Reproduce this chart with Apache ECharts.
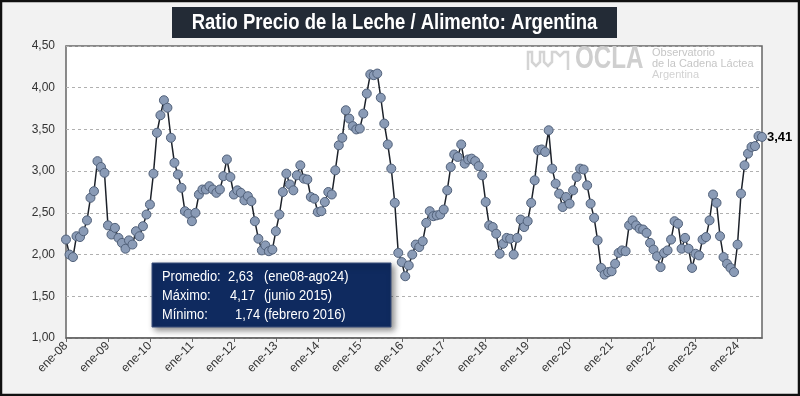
<!DOCTYPE html>
<html>
<head>
<meta charset="utf-8">
<script src="https://cdn.jsdelivr.net/npm/echarts@6/dist/echarts.min.js"></script>
<style>
  html, body { margin: 0; padding: 0; background: #fff; }
  #chart { width: 800px; height: 396px; }
</style>
</head>
<body>
<div id="chart"></div>
<script>
// meses y años del eje x (ene-08 .. ago-24)
var months = ['ene', 'feb', 'mar', 'abr', 'may', 'jun', 'jul', 'ago', 'sep', 'oct', 'nov', 'dic'];
var years = ['08', '09', '10', '11', '12', '13', '14', '15', '16', '17', '18', '19', '20', '21', '22', '23', '24'];

// ratio precio leche / alimento, mensual
var ratio = [
  2.18, 2.00, 1.97, 2.22, 2.21, 2.28, 2.41, 2.68, 2.76, 3.12, 3.05, 2.98,
  2.35, 2.24, 2.32, 2.20, 2.14, 2.07, 2.17, 2.12, 2.28, 2.22, 2.34, 2.48,
  2.60, 2.97, 3.46, 3.67, 3.85, 3.76, 3.40, 3.10, 2.96, 2.80, 2.52, 2.49,
  2.40, 2.50, 2.72, 2.78, 2.78, 2.82, 2.78, 2.74, 2.78, 2.94, 3.14, 2.93,
  2.72, 2.77, 2.74, 2.65, 2.70, 2.64, 2.40, 2.19, 2.05, 2.11, 2.04, 2.06,
  2.28, 2.48, 2.75, 2.97, 2.84, 2.77, 2.95, 3.07, 2.91, 2.90, 2.69, 2.67,
  2.51, 2.52, 2.63, 2.75, 2.72, 3.01, 3.31, 3.40, 3.73, 3.63, 3.54, 3.50,
  3.51, 3.69, 3.93, 4.16, 4.15, 4.17, 3.88, 3.57, 3.32, 3.03, 2.62, 2.02,
  1.91, 1.74, 1.87, 2.00, 2.12, 2.09, 2.16, 2.38, 2.52, 2.46, 2.47, 2.48,
  2.54, 2.77, 3.05, 3.20, 3.17, 3.32, 3.09, 3.14, 3.15, 3.12, 3.06, 2.95,
  2.63, 2.35, 2.33, 2.25, 2.01, 2.13, 2.20, 2.19, 2.00, 2.20, 2.42, 2.33,
  2.40, 2.62, 2.89, 3.25, 3.26, 3.23, 3.49, 3.03, 2.85, 2.73, 2.57, 2.69,
  2.61, 2.77, 2.93, 3.03, 3.02, 2.83, 2.61, 2.44, 2.17, 1.84, 1.76, 1.79,
  1.80, 1.89, 2.02, 2.05, 2.04, 2.35, 2.41, 2.35, 2.31, 2.30, 2.26, 2.14,
  2.06, 1.98, 1.85, 2.02, 2.05, 2.18, 2.40, 2.37, 2.07, 2.20, 2.07, 1.84,
  2.01, 1.99, 2.18, 2.21, 2.41, 2.72, 2.62, 2.22, 1.97, 1.89, 1.84, 1.79,
  2.12, 2.73, 3.07, 3.21, 3.29, 3.30, 3.42, 3.41
];

// texto del recuadro
var statLabels = ['Promedio:', 'Máximo:', 'Mínimo:'];
var statValues = ['2,63', '4,17', '1,74'];
var statNotes = ['(ene08-ago24)', '(junio 2015)', '(febrero 2016)'];

var categories = [];
years.forEach(function (y) {
  months.forEach(function (m) {
    if (categories.length < ratio.length) categories.push(m + '-' + y);
  });
});

function fmt(v) {
  return v.toFixed(2).replace('.', ',');
}

var seriesData = ratio.map(function (v, i) {
  if (i === ratio.length - 1) {
    return {
      value: v,
      label: {
        show: true,
        position: 'right',
        distance: 0,
        formatter: function (p) { return fmt(p.value); },
        color: '#000',
        fontWeight: 'bold',
        fontSize: 13,
        fontFamily: 'Liberation Sans'
      }
    };
  }
  return v;
});

var font = 'Liberation Sans';
var chart = echarts.init(document.getElementById('chart'));

// recuadro de estadisticas
var statBox = [{
  type: 'rect',
  shape: { x: 152, y: 263, width: 239, height: 64 },
  style: { fill: '#0f2a5f', stroke: '#3a4f7a', lineWidth: 1, shadowBlur: 6, shadowOffsetX: 3, shadowOffsetY: 3, shadowColor: 'rgba(0,0,0,0.45)' },
  z: 10
}];
var lineY = [277, 296, 315];
var valueX = [228, 230, 235];
statLabels.forEach(function (t, i) {
  statBox.push({ type: 'text', x: 162, y: lineY[i], z: 11, scaleX: 0.92,
    style: { text: t, fill: '#fff', font: '14px ' + font, verticalAlign: 'middle' } });
  statBox.push({ type: 'text', x: valueX[i], y: lineY[i], z: 11, scaleX: 0.92,
    style: { text: statValues[i], fill: '#fff', font: '14px ' + font, verticalAlign: 'middle' } });
  statBox.push({ type: 'text', x: 264, y: lineY[i], z: 11, scaleX: 0.92,
    style: { text: statNotes[i], fill: '#fff', font: '14px ' + font, verticalAlign: 'middle' } });
});

var option = {
  animation: false,
  backgroundColor: '#f2f2f2',
  grid: {
    left: 66,
    right: 38,
    top: 46,
    bottom: 58,
    show: true,
    backgroundColor: '#fff',
    borderColor: '#666',
    borderWidth: 1.5
  },
  xAxis: {
    type: 'category',
    data: categories,
    boundaryGap: false,
    axisLine: { show: true, lineStyle: { color: '#666', width: 1.5 } },
    axisTick: { show: true, interval: 11, length: 4, lineStyle: { color: '#666' } },
    axisLabel: {
      interval: 11,
      rotate: 45,
      margin: 6,
      color: '#333',
      fontSize: 12,
      fontFamily: font
    },
    splitLine: { show: false }
  },
  yAxis: {
    type: 'value',
    min: 1,
    max: 4.5,
    interval: 0.5,
    axisLine: { show: false },
    axisTick: { show: false },
    axisLabel: {
      margin: 11,
      color: '#333',
      fontSize: 12,
      fontFamily: font,
      formatter: function (v) { return fmt(v); }
    },
    splitLine: { show: true, lineStyle: { color: '#b0b0b0', type: [3, 3], width: 1 } }
  },
  series: [{
    type: 'line',
    data: seriesData,
    symbol: 'circle',
    symbolSize: 9,
    showAllSymbol: true,
    lineStyle: { color: '#1c2129', width: 1.5 },
    itemStyle: { color: '#8a9bb6', borderColor: '#51617a', borderWidth: 1 },
    z: 3
  }],
  graphic: [
    // titulo
    {
      type: 'rect',
      shape: { x: 172, y: 7, width: 445, height: 31 },
      style: { fill: '#232b36' },
      z: 5
    },
    {
      type: 'text',
      x: 394.5,
      y: 22.5,
      scaleX: 0.84,
      z: 6,
      style: {
        text: 'Ratio Precio de la Leche / Alimento: Argentina',
        fill: '#fff',
        font: 'bold 22px "Liberation Sans"',
        align: 'center',
        verticalAlign: 'middle'
      }
    },
    // logo OCLA
    {
      type: 'polyline',
      z: 1,
      shape: { points: [[528, 70], [528, 52], [532, 52], [532, 62], [536, 66], [540, 62], [540, 52], [544, 52], [544, 62], [548, 66], [552, 62], [552, 52], [556, 52], [560, 56], [564, 52], [568, 52], [568, 70]] },
      style: { stroke: '#d4d4d4', lineWidth: 2.5, fill: null }
    },
    {
      type: 'text', x: 575, y: 59, z: 1, scaleX: 0.78,
      style: { text: 'OCLA', fill: '#cfcfcf', font: 'bold 31px "Liberation Sans"', verticalAlign: 'middle' }
    },
    {
      type: 'text', x: 652, y: 53, z: 1,
      style: { text: 'Observatorio', fill: '#c6c6c6', font: '11px "Liberation Sans"', verticalAlign: 'middle' }
    },
    {
      type: 'text', x: 652, y: 64, z: 1,
      style: { text: 'de la Cadena Láctea', fill: '#c6c6c6', font: '11px "Liberation Sans"', verticalAlign: 'middle' }
    },
    {
      type: 'text', x: 652, y: 75, z: 1,
      style: { text: 'Argentina', fill: '#d2d2d2', font: '11px "Liberation Sans"', verticalAlign: 'middle' }
    },
    // marco exterior
    {
      type: 'rect',
      shape: { x: 1, y: 1, width: 798, height: 394 },
      style: { fill: null, stroke: '#111', lineWidth: 2.5 },
      z: 100
    }
  ].concat(statBox)
};

chart.setOption(option);
</script>
</body>
</html>
